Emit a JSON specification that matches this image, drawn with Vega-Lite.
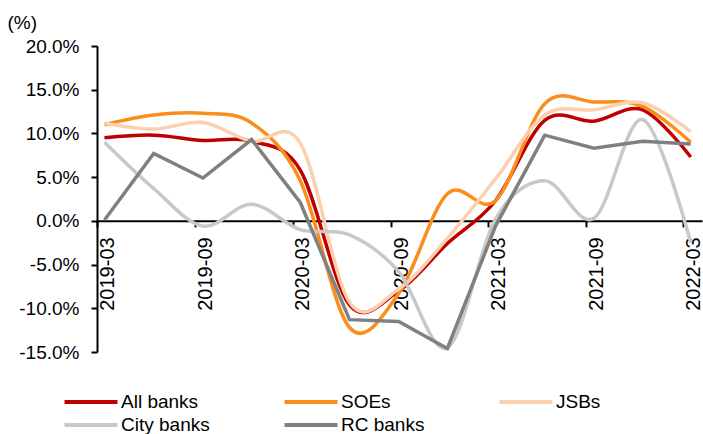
{
  "$schema": "https://vega.github.io/schema/vega-lite/v6.json",
  "width": 605,
  "height": 306,
  "autosize": {"type": "none"},
  "padding": {"left": 97, "top": 46, "right": 1, "bottom": 82},
  "background": "white",
  "config": {
    "view": {"stroke": null},
    "font": "Liberation Sans"
  },
  "datasets": {
    "smoothed": [
      {"date": "2019-03-15", "series": "All banks", "value": 9.5},
      {"date": "2019-06-15", "series": "All banks", "value": 9.8},
      {"date": "2019-09-15", "series": "All banks", "value": 9.2},
      {"date": "2019-12-15", "series": "All banks", "value": 9.1},
      {"date": "2020-03-15", "series": "All banks", "value": 5.8},
      {"date": "2020-06-15", "series": "All banks", "value": -9.6},
      {"date": "2020-09-15", "series": "All banks", "value": -8.0},
      {"date": "2020-12-15", "series": "All banks", "value": -2.6},
      {"date": "2021-03-15", "series": "All banks", "value": 2.3},
      {"date": "2021-06-15", "series": "All banks", "value": 11.5},
      {"date": "2021-09-15", "series": "All banks", "value": 11.4},
      {"date": "2021-12-15", "series": "All banks", "value": 12.7},
      {"date": "2022-03-15", "series": "All banks", "value": 7.3},

      {"date": "2019-03-15", "series": "SOEs", "value": 11.0},
      {"date": "2019-06-15", "series": "SOEs", "value": 12.1},
      {"date": "2019-09-15", "series": "SOEs", "value": 12.3},
      {"date": "2019-12-15", "series": "SOEs", "value": 11.2},
      {"date": "2020-03-15", "series": "SOEs", "value": 4.6},
      {"date": "2020-06-15", "series": "SOEs", "value": -12.2},
      {"date": "2020-09-15", "series": "SOEs", "value": -8.3},
      {"date": "2020-12-15", "series": "SOEs", "value": 3.1},
      {"date": "2021-03-15", "series": "SOEs", "value": 2.3},
      {"date": "2021-06-15", "series": "SOEs", "value": 13.4},
      {"date": "2021-09-15", "series": "SOEs", "value": 13.6},
      {"date": "2021-12-15", "series": "SOEs", "value": 13.1},
      {"date": "2022-03-15", "series": "SOEs", "value": 9.0},

      {"date": "2019-03-15", "series": "JSBs", "value": 11.2},
      {"date": "2019-06-15", "series": "JSBs", "value": 10.5},
      {"date": "2019-09-15", "series": "JSBs", "value": 11.25},
      {"date": "2019-12-15", "series": "JSBs", "value": 9.1},
      {"date": "2020-03-15", "series": "JSBs", "value": 8.9},
      {"date": "2020-06-15", "series": "JSBs", "value": -9.3},
      {"date": "2020-09-15", "series": "JSBs", "value": -7.8},
      {"date": "2020-12-15", "series": "JSBs", "value": -2.0},
      {"date": "2021-03-15", "series": "JSBs", "value": 4.8},
      {"date": "2021-06-15", "series": "JSBs", "value": 12.1},
      {"date": "2021-09-15", "series": "JSBs", "value": 12.7},
      {"date": "2021-12-15", "series": "JSBs", "value": 13.5},
      {"date": "2022-03-15", "series": "JSBs", "value": 10.2},

      {"date": "2019-03-15", "series": "City banks", "value": 9.0},
      {"date": "2019-06-15", "series": "City banks", "value": 3.7},
      {"date": "2019-09-15", "series": "City banks", "value": -0.6},
      {"date": "2019-12-15", "series": "City banks", "value": 1.9},
      {"date": "2020-03-15", "series": "City banks", "value": -1.0},
      {"date": "2020-06-15", "series": "City banks", "value": -1.6},
      {"date": "2020-09-15", "series": "City banks", "value": -5.8},
      {"date": "2020-12-15", "series": "City banks", "value": -14.5},
      {"date": "2021-03-15", "series": "City banks", "value": 0.2},
      {"date": "2021-06-15", "series": "City banks", "value": 4.6},
      {"date": "2021-09-15", "series": "City banks", "value": 0.3},
      {"date": "2021-12-15", "series": "City banks", "value": 11.6},
      {"date": "2022-03-15", "series": "City banks", "value": -2.5}
    ],
    "straight": [
      {"date": "2019-03-15", "series": "RC banks", "value": 0.1},
      {"date": "2019-06-15", "series": "RC banks", "value": 7.7},
      {"date": "2019-09-15", "series": "RC banks", "value": 4.9},
      {"date": "2019-12-15", "series": "RC banks", "value": 9.3},
      {"date": "2020-03-15", "series": "RC banks", "value": 2.1},
      {"date": "2020-06-15", "series": "RC banks", "value": -11.3},
      {"date": "2020-09-15", "series": "RC banks", "value": -11.5},
      {"date": "2020-12-15", "series": "RC banks", "value": -14.6},
      {"date": "2021-03-15", "series": "RC banks", "value": -0.6},
      {"date": "2021-06-15", "series": "RC banks", "value": 9.8},
      {"date": "2021-09-15", "series": "RC banks", "value": 8.3},
      {"date": "2021-12-15", "series": "RC banks", "value": 9.1},
      {"date": "2022-03-15", "series": "RC banks", "value": 8.8}
    ]
  },
  "encoding": {
    "x": {
      "field": "date",
      "type": "temporal",
      "scale": {
        "type": "utc",
        "domain": [
          {"year": 2019, "month": 3, "date": 1, "utc": true},
          {"year": 2022, "month": 4, "date": 5, "utc": true}
        ]
      },
      "axis": {
        "title": null,
        "values": [
          {"year": 2019, "month": 3, "date": 1, "utc": true},
          {"year": 2019, "month": 9, "date": 1, "utc": true},
          {"year": 2020, "month": 3, "date": 1, "utc": true},
          {"year": 2020, "month": 9, "date": 1, "utc": true},
          {"year": 2021, "month": 3, "date": 1, "utc": true},
          {"year": 2021, "month": 9, "date": 1, "utc": true},
          {"year": 2022, "month": 3, "date": 1, "utc": true}
        ],
        "format": "%Y-%m",
        "offset": -131.14,
        "grid": false,
        "domainColor": "black",
        "domainWidth": 2,
        "tickColor": "black",
        "tickWidth": 2,
        "tickSize": 6,
        "labelAngle": -90,
        "labelAlign": "right",
        "labelBaseline": "top",
        "labelPadding": 10,
        "labelFontSize": 20,
        "labelColor": "black",
        "labelFlush": false,
        "labelOverlap": false
      }
    },
    "y": {
      "field": "value",
      "type": "quantitative",
      "scale": {"domain": [-15, 20], "nice": false, "zero": false},
      "axis": {
        "values": [-15, -10, -5, 0, 5, 10, 15, 20],
        "labelExpr": "(datum.value < 0 ? '-' : '') + format(abs(datum.value), '.1f') + '%'",
        "grid": false,
        "domainColor": "black",
        "domainWidth": 2,
        "tickColor": "black",
        "tickWidth": 2,
        "tickSize": 6,
        "labelPadding": 12,
        "labelFontSize": 19,
        "labelColor": "black",
        "title": "(%)",
        "titleAngle": 0,
        "titleAlign": "left",
        "titleBaseline": "alphabetic",
        "titleX": -90,
        "titleY": -18,
        "titleFontSize": 19,
        "titleFontWeight": "normal",
        "titleColor": "black"
      }
    },
    "color": {
      "field": "series",
      "type": "nominal",
      "scale": {
        "domain": ["All banks", "SOEs", "JSBs", "City banks", "RC banks"],
        "range": ["#C00000", "#F98E1D", "#FBD0AE", "#C8C8C8", "#808080"]
      },
      "legend": {
        "title": null,
        "orient": "none",
        "legendX": -19,
        "legendY": 343,
        "direction": "horizontal",
        "columns": 3,
        "columnPadding": 66,
        "rowPadding": 0,
        "symbolType": "M-2.5,0H2.5",
        "symbolSize": 449,
        "symbolStrokeWidth": 4,
        "symbolStrokeCap": "butt",
        "labelFontSize": 19,
        "labelColor": "black",
        "labelOffset": 17
      }
    }
  },
  "layer": [
    {
      "data": {"name": "smoothed"},
      "mark": {"type": "line", "interpolate": "cardinal", "strokeWidth": 3.5}
    },
    {
      "data": {"name": "straight"},
      "mark": {"type": "line", "strokeWidth": 3.5}
    }
  ]
}
